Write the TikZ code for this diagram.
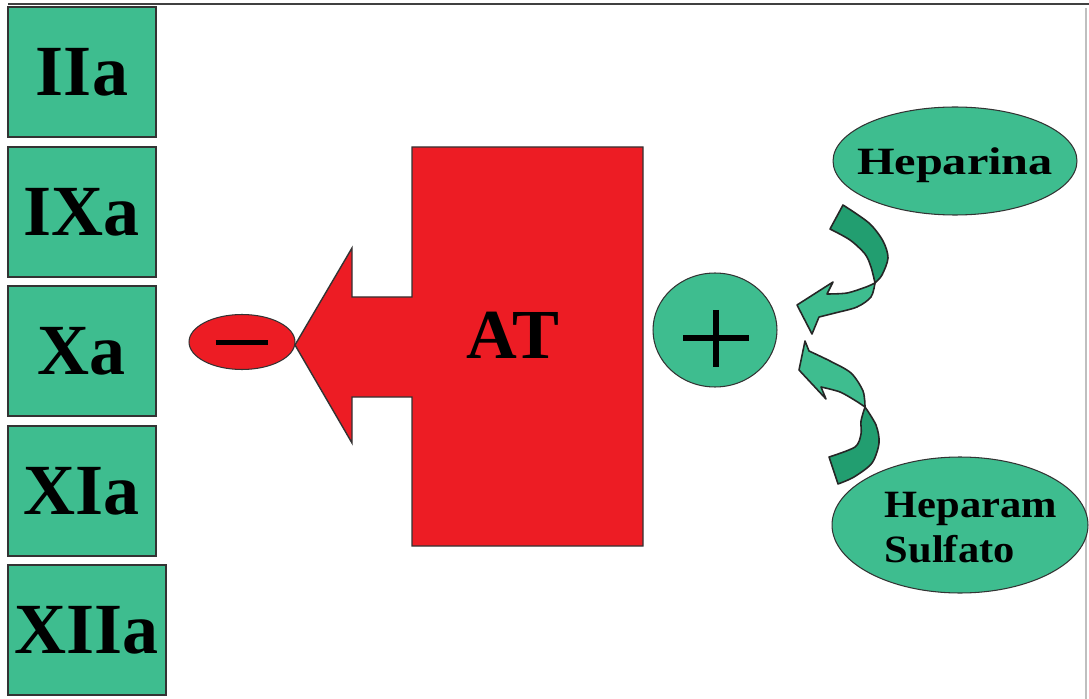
\documentclass[tikz,border=0pt]{standalone}
\usepackage{fontspec}
\setmainfont{Liberation Serif}
\usepackage{graphicx}
\usetikzlibrary{shapes.geometric}

\definecolor{boxgreen}{HTML}{3EBD8F}
\definecolor{darkgreen}{HTML}{229E70}
\definecolor{atred}{HTML}{ED1C24}

\begin{document}
\begin{tikzpicture}[x=0.02cm, y=-0.02cm,
  factor/.style={draw=black!80, line width=1.1pt, fill=boxgreen, minimum width=2.96cm, minimum height=2.6cm, inner sep=0pt, font=\bfseries\fontsize{41}{41}\selectfont},
  blob/.style={ellipse, draw=black!80, line width=0.6pt, fill=boxgreen, inner sep=0pt},
  curl/.style={draw=black!85, line width=0.9pt, line join=round}]

\useasboundingbox (0,0) rectangle (1089,699);

% Frame
\draw[black!75, line width=1.2pt] (8,4) -- (1089,4);
\draw[black!25, line width=1pt] (1086,8) -- (1086,699);

% Clotting factors
\foreach \name/\lbl/\y in {f2/IIa/72, f9/IXa/212, f10/Xa/351, f11/XIa/491}
{
    \node[factor] (\name) at (82,\y) {\lbl};
}
\node[factor, minimum width=3.16cm] (f12) at (87,630) {XIIa};

% Antithrombin block with arrow
\filldraw[fill=atred, draw=black!80, line width=0.8pt] (643,147) -- (412,147) -- (412,297) -- (352,297) -- (352,248) -- (295,345) -- (352,443) -- (352,397) -- (412,397) -- (412,546) -- (643,546) -- cycle;
\node[font=\bfseries\fontsize{40}{40}\selectfont] (at) at (513,335) {AT};

% Inhibition sign
\node[blob, fill=atred, minimum width=2.12cm, minimum height=1.1cm] (neg) at (242,342) {\rule{1.06cm}{0.1cm}};

% Activation sign
\node[blob, minimum width=2.48cm, minimum height=2.28cm] (pos) at (715,330) {};
\draw[line width=0.11cm] (683,338) -- (749,338) (716,310) -- (716,367);

% Cofactors
\node[blob, minimum width=4.88cm, minimum height=2.16cm,
  label={[font=\bfseries\fontsize{22}{25.5}\selectfont, yshift=-0.08cm]center:{\scalebox{1.25}[1]{Heparina}}}] (hep) at (955,161) {};
\node[blob, minimum width=5.12cm, minimum height=2.72cm,
  label={[font=\bfseries\fontsize{22}{25.5}\selectfont, xshift=0.22cm, yshift=-0.12cm]center:{\scalebox{1.1}[1]{\begin{tabular}{@{}l@{}}Heparam\\Sulfato\end{tabular}}}}] (hs) at (960,525) {};

% Curved arrows (top)
\filldraw[curl, fill=darkgreen] (830,229) -- (843,205) -- plot[smooth] coordinates {(843,205) (869,223) (883,241) (888,258) (882,275) (875,283)} -- plot[smooth] coordinates {(875,283) (871,267) (865,254) (850,240) (830,229)} -- cycle;
\filldraw[curl, fill=boxgreen] (875,283) -- plot[smooth] coordinates {(875,283) (871,297) (857,307) (835,313) (819,317)} -- (812,334) -- (797,305) -- (833,282) -- (827,294) -- plot[smooth] coordinates {(827,294) (847,293) (866,287) (875,283)} -- cycle;

% Curved arrows (bottom)
\filldraw[curl, fill=boxgreen] (865,407) -- plot[smooth] coordinates {(865,407) (863,391) (851,373) (830,361) (809,351)} -- (805,341) -- (799,370) -- (826,399) -- (821,387) -- plot[smooth] coordinates {(821,387) (840,392) (856,401) (865,407)} -- cycle;
\filldraw[curl, fill=darkgreen] (865,407) -- plot[smooth] coordinates {(865,407) (876,425) (879,443) (872,463) (854,477) (838,484)} -- (829,457) -- plot[smooth] coordinates {(829,457) (855,447) (861,434) (861,421) (865,407)} -- cycle;

\end{tikzpicture}
\end{document}
